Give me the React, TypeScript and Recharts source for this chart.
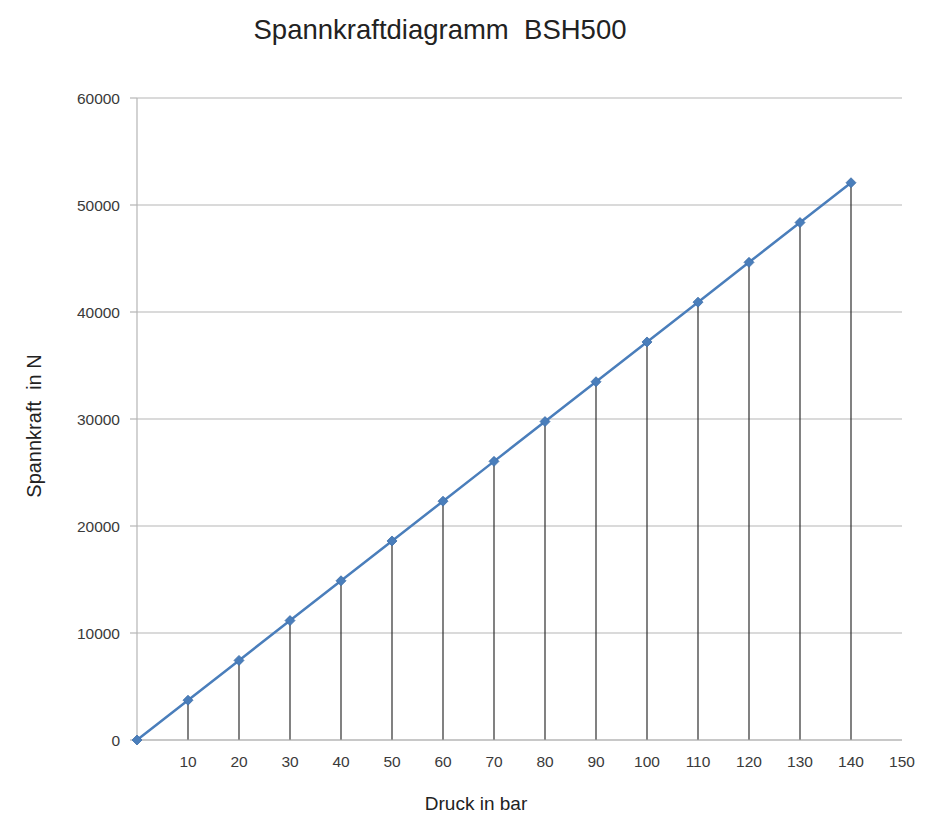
import React from 'react';
import { ComposedChart, Line, XAxis, YAxis, CartesianGrid, ErrorBar } from 'recharts';

const pressures = [0, 10, 20, 30, 40, 50, 60, 70, 80, 90, 100, 110, 120, 130, 140];
const forces = [0, 3720, 7440, 11160, 14880, 18600, 22320, 26040, 29760, 33480, 37200, 40920, 44640, 48360, 52080];
const xTicks = [10, 20, 30, 40, 50, 60, 70, 80, 90, 100, 110, 120, 130, 140, 150];
const yTicks = [0, 10000, 20000, 30000, 40000, 50000, 60000];

const data = pressures.map((p, i) => ({ p, f: forces[i], drop: [forces[i], 0] }));

const Diamond = (props: any) => {
  const { cx, cy } = props;
  if (cx == null || cy == null) return null;
  const r = 5;
  return (
    <path
      d={`M${cx},${cy - r}L${cx + r},${cy}L${cx},${cy + r}L${cx - r},${cy}Z`}
      fill="#4a7ebb"
      stroke="#3f6fa8"
      strokeWidth={0.8}
    />
  );
};

const tickStyle = { fontFamily: '"Liberation Sans", Arial, sans-serif', fontSize: 15.5, fill: '#3a3a3a' };

export default function App() {
  return (
    <div style={{ position: 'absolute', left: 0, top: 0, width: 947, height: 819, background: '#fff' }}>
      <div
        style={{
          position: 'absolute',
          left: 0,
          width: 880,
          top: 14,
          textAlign: 'center',
          fontFamily: '"Liberation Sans", Arial, sans-serif',
          fontSize: 27.5,
          color: '#222',
          whiteSpace: 'pre',
        }}
      >
        {'Spannkraftdiagramm  BSH500'}
      </div>
      <div
        style={{
          position: 'absolute',
          left: 0,
          width: 952,
          top: 793,
          textAlign: 'center',
          fontFamily: '"Liberation Sans", Arial, sans-serif',
          fontSize: 19,
          color: '#222',
          whiteSpace: 'pre',
        }}
      >
        {'Druck in bar'}
      </div>
      <div
        style={{
          position: 'absolute',
          left: 34,
          top: 426,
          transform: 'translate(-50%, -50%) rotate(-90deg)',
          fontFamily: '"Liberation Sans", Arial, sans-serif',
          fontSize: 20,
          color: '#222',
          whiteSpace: 'pre',
        }}
      >
        {'Spannkraft  in N'}
      </div>
      <ComposedChart
        width={947}
        height={819}
        data={data}
        margin={{ top: 98, right: 45, bottom: 49, left: 0 }}
        style={{ position: 'absolute', left: 0, top: 0 }}
      >
        <CartesianGrid vertical={false} stroke="#b5b5b5" strokeWidth={1.2} />
        <XAxis
          dataKey="p"
          type="number"
          domain={[0, 150]}
          ticks={xTicks}
          interval={0}
          height={30}
          tickLine={false}
          tickMargin={10}
          axisLine={{ stroke: '#b5b5b5', strokeWidth: 1.2 }}
          tick={tickStyle}
        />
        <YAxis
          type="number"
          domain={[0, 60000]}
          ticks={yTicks}
          interval={0}
          width={137}
          tickSize={7}
          tickMargin={10}
          tickLine={{ stroke: '#b5b5b5', strokeWidth: 1.2 }}
          axisLine={{ stroke: '#b5b5b5', strokeWidth: 1.2 }}
          tick={tickStyle}
        />
        <Line
          dataKey="f"
          type="linear"
          stroke="#4a7ebb"
          strokeWidth={2.5}
          dot={<Diamond />}
          activeDot={false}
          isAnimationActive={false}
        >
          <ErrorBar dataKey="drop" direction="y" width={0} stroke="#2e2e2e" strokeWidth={1.2} />
        </Line>
      </ComposedChart>
    </div>
  );
}
